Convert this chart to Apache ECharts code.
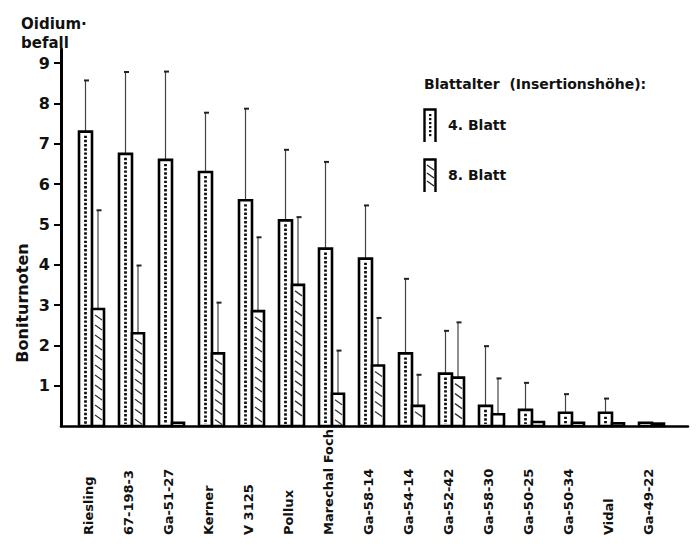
<!DOCTYPE html>
<html>
<head>
<meta charset="utf-8">
<script src="https://cdn.jsdelivr.net/npm/echarts@6/dist/echarts.min.js"></script>
<style>html,body{margin:0;padding:0;background:#fff}#c{width:696px;height:550px}</style>
</head>
<body>
<div id="c"></div>
<script>
const categories = ['Riesling','67-198-3','Ga-51-27','Kerner','V 3125','Pollux','Marechal Foch','Ga-58-14','Ga-54-14','Ga-52-42','Ga-58-30','Ga-50-25','Ga-50-34','Vidal','Ga-49-22'];
const blatt4 = [7.3, 6.75, 6.6, 6.3, 5.6, 5.1, 4.4, 4.15, 1.8, 1.3, 0.5, 0.4, 0.33, 0.33, 0.08];
const blatt4ErrTop = [8.57, 8.78, 8.79, 7.77, 7.87, 6.85, 6.55, 5.47, 3.65, 2.36, 1.98, 1.07, 0.79, 0.68, null];
const blatt8 = [2.9, 2.3, 0.08, 1.8, 2.85, 3.5, 0.8, 1.5, 0.5, 1.2, 0.29, 0.1, 0.08, 0.07, 0.06];
const blatt8ErrTop = [5.35, 3.98, null, 3.06, 4.68, 5.18, 1.87, 2.68, 1.27, 2.57, 1.18, null, null, null, null];
const yTicks = [1,2,3,4,5,6,7,8,9];
const seriesNames = ['4. Blatt', '8. Blatt'];

const FONT = '"DejaVu Sans", "Liberation Sans", Arial, sans-serif';
const idx = categories.map((_, i) => i);

function rows(vals, errs) {
  return vals.map((v, i) => [i, v, errs[i] == null ? NaN : errs[i]]);
}

function makeRender(kind) {
  return function (params, api) {
    const i = api.value(0), v = api.value(1), e = api.value(2);
    const p0 = api.coord([i, 0]);
    const p1 = api.coord([i, v]);
    const c = p0[0];
    const w = kind === 0 ? 13 : 12;
    const x0 = kind === 0 ? c - 9 : c + 4;
    const yTop = p1[1], yBase = p0[1];
    const cx = x0 + w / 2;
    const ch = [];
    if (isFinite(e)) {
      const pe = api.coord([i, e]);
      ch.push({type: 'line', shape: {x1: cx, y1: yTop, x2: cx, y2: pe[1]}, style: {stroke: '#444', lineWidth: 1.2}});
      ch.push({type: 'line', shape: {x1: cx - 1.5, y1: pe[1], x2: cx + 3.5, y2: pe[1]}, style: {stroke: '#222', lineWidth: 2}});
    }
    ch.push({type: 'rect', shape: {x: x0, y: yTop, width: w, height: yBase - yTop},
      style: {fill: '#fff', stroke: '#000', lineWidth: 2.6}});
    if (kind === 0) {
      if (yBase - yTop > 8) {
        ch.push({type: 'line', shape: {x1: cx, y1: yTop + 4, x2: cx, y2: yBase - 2},
          style: {stroke: '#111', lineWidth: 2.8, lineDash: [2.4, 1.8]}});
      }
    } else {
      for (let y = yTop + 6; y + 6 < yBase; y += 10) {
        ch.push({type: 'line', shape: {x1: x0 + 3, y1: y, x2: x0 + w - 2, y2: y + 5},
          style: {stroke: '#333', lineWidth: 1.3}});
      }
    }
    return {type: 'group', children: ch};
  };
}

function iconSvg(kind) {
  let inner = '';
  if (kind === 0) {
    for (let y = 6; y < 30; y += 4) inner += `<rect x="6" y="${y}" width="2.4" height="2.2" fill="#111"/>`;
  } else {
    for (let y = 7; y < 30; y += 8) inner += `<line x1="4" y1="${y}" x2="11" y2="${y + 5}" stroke="#222" stroke-width="1.4"/>`;
  }
  const svg = `<svg xmlns="http://www.w3.org/2000/svg" width="14" height="34" viewBox="0 0 14 34"><path d="M1.5 34 V1.5 H12.5 V34" fill="#fff" stroke="#000" stroke-width="2.4"/>${inner}</svg>`;
  return 'image://data:image/svg+xml;charset=utf-8,' + encodeURIComponent(svg);
}

const chart = echarts.init(document.getElementById('c'), null, {renderer: 'svg'});
chart.setOption({
  animation: false,
  backgroundColor: '#fff',
  title: [
    {text: 'Oidium·\nbefall', left: 16, top: 9,
     textStyle: {fontFamily: FONT, fontWeight: 'bold', fontSize: 15, lineHeight: 19, color: '#111'}},
    {text: 'Blattalter  (Insertionshöhe):', left: 419, top: 72,
     textStyle: {fontFamily: FONT, fontWeight: 'bold', fontSize: 14, color: '#111'}}
  ],
  legend: {
    orient: 'vertical', left: 418, top: 103, itemWidth: 14, itemHeight: 34, itemGap: 16,
    selectedMode: false,
    textStyle: {fontFamily: FONT, fontWeight: 'bold', fontSize: 14, color: '#111', padding: [4, 0, 0, 6]},
    data: [
      {name: seriesNames[0], icon: iconSvg(0)},
      {name: seriesNames[1], icon: iconSvg(1)}
    ]
  },
  graphic: [
    {type: 'text', x: 22, y: 303, rotation: Math.PI / 2,
     style: {text: 'Boniturnoten', fontFamily: FONT, fontWeight: 'bold', fontSize: 16, fill: '#111',
             align: 'center', verticalAlign: 'middle'}}
  ],
  grid: {left: 61, right: 8, top: 49, bottom: 124, containLabel: false},
  xAxis: {
    type: 'value', min: -0.675, max: 15,
    splitLine: {show: false},
    axisLine: {show: true, onZero: false, lineStyle: {color: '#000', width: 2.6}},
    axisTick: {show: false},
    axisLabel: {
      customValues: idx, rotate: 90, align: 'left', verticalAlign: 'middle', margin: 109,
      formatter: v => categories[Math.round(v)] || '',
      fontFamily: FONT, fontWeight: 'bold', fontSize: 13, color: '#111'
    }
  },
  yAxis: {
    type: 'value', min: 0, max: 9.35,
    splitLine: {show: false},
    axisLine: {show: true, onZero: false, lineStyle: {color: '#000', width: 3}},
    axisTick: {show: true, customValues: yTicks, length: 7, lineStyle: {color: '#000', width: 2}},
    axisLabel: {customValues: yTicks, margin: 11, fontFamily: FONT, fontWeight: 'bold', fontSize: 16, color: '#111'}
  },
  series: [
    {name: seriesNames[0], type: 'custom', renderItem: makeRender(0), data: rows(blatt4, blatt4ErrTop),
     encode: {x: 0, y: 1}, itemStyle: {color: '#000'}},
    {name: seriesNames[1], type: 'custom', renderItem: makeRender(1), data: rows(blatt8, blatt8ErrTop),
     encode: {x: 0, y: 1}, itemStyle: {color: '#000'}}
  ]
});
</script>
</body>
</html>
